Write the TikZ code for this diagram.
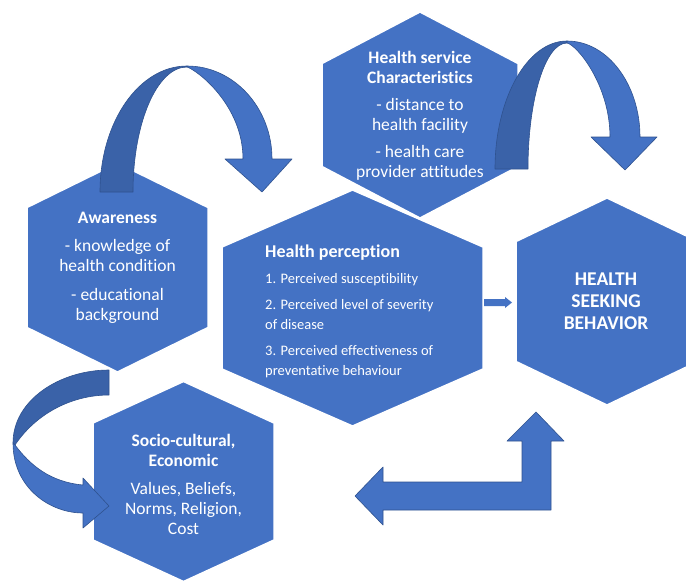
\documentclass[tikz,border=0pt]{standalone}
\usepackage{fontspec}
\setmainfont{Carlito}[Ligatures=NoCommon]
\usetikzlibrary{positioning}
\definecolor{hexblue}{HTML}{4472C4}
\definecolor{ribbondark}{HTML}{3A62A8}
\definecolor{edgeblue}{HTML}{2F528F}
% hexagon: centre x, centre y, half width, half side, half height
\newcommand{\hexa}[5]{({#1-#3},{#2-#4}) -- (#1,{#2-#5}) -- ({#1+#3},{#2-#4}) -- ({#1+#3},{#2+#4}) -- (#1,{#2+#5}) -- ({#1-#3},{#2+#4}) -- cycle}
\tikzset{
  hexbox/.style={fill=hexblue,draw=white,line width=1.5pt},
  ribbon/.style={fill=hexblue,draw=edgeblue,line width=0.6pt,line join=round},
  ribbonback/.style={fill=ribbondark,draw=edgeblue,line width=0.6pt,line join=round},
  hextext/.style={text=white,align=center,inner sep=0pt,font=\fontsize{17.5}{20}\selectfont}
}
\begin{document}
\begin{tikzpicture}[x=1pt,y=-1pt]
\clip (0,0) rectangle (686,581);
\fill[white] (0,0) rectangle (686,581);
% hexagons
\draw[hexbox] \hexa{420}{115}{98}{51.5}{103};
\draw[hexbox] \hexa{117.5}{267.5}{90.5}{60}{104.5};
\draw[hexbox] \hexa{352.5}{308}{130.5}{61}{118};
\draw[hexbox] \hexa{607}{301.5}{91}{60}{103.5};
\draw[hexbox] \hexa{183.5}{481.5}{90.5}{58.5}{100};
% curved arrow: awareness -> perception
\draw[ribbonback] (100,192) .. controls (100,122) and (139,66) .. (187,66) -- (187,67) .. controls (157,67) and (133,123) .. (133,192) -- cycle;
\draw[ribbon] (187,66) .. controls (234,66) and (272,108) .. (272,159) -- (292,159) -- (262,192) -- (225,159) -- (243,159) .. controls (243,105) and (197,70) .. (187,67) -- cycle;
% curved arrow: service -> seeking behaviour
\draw[ribbonback] (495,169) .. controls (495,99) and (527,41) .. (567,41) -- (567,43) .. controls (545,43) and (528,100) .. (528,169) -- cycle;
\draw[ribbon] (567,41) .. controls (608,41) and (640,85) .. (640,137) -- (657,137) -- (625,170) -- (591,137) -- (610,137) .. controls (610,85) and (577,45) .. (567,43) -- cycle;
% curved arrow: awareness -> socio-cultural
\draw[ribbonback] (109,370) .. controls (60,370) and (13,400) .. (13,443) -- (15,445) .. controls (35,415) and (70,395) .. (109,395) -- cycle;
\draw[ribbon] (13,443) .. controls (13,488) and (50,513) .. (83,513) -- (83,528) -- (109,506) -- (83,478) -- (83,485) .. controls (50,482) and (30,465) .. (15,445) -- cycle;
% small arrow: perception -> seeking behaviour
\fill[hexblue] (484,299) -- (505,299) -- (505,297) -- (512,302.5) -- (505,308) -- (505,306) -- (484,306) -- cycle;
% bent arrow: socio-cultural <-> seeking behaviour
\draw[ribbon] (355,496) -- (383,467) -- (383,482) -- (522,482) -- (522,441) -- (507,441) -- (536,412) -- (564,441) -- (551,441) -- (551,510) -- (383,510) -- (383,525) -- cycle;
% texts
\node[hextext] (service) at (420,116) {\textbf{Health service}\\\textbf{Characteristics}\\[7pt]- distance to\\health facility\\[7pt]- health care\\provider attitudes};
\node[hextext] (aware) at (117.5,268) {\textbf{Awareness}\\[8pt]- knowledge of\\health condition\\[9pt]- educational\\background};
\node[hextext,anchor=west,align=left] (percept) at (265,311) {{\fontsize{18}{20}\selectfont\textbf{Health perception}}\\[6pt]
  {\fontsize{14.5}{16.5}\selectfont 1. Perceived susceptibility}\\[6pt]
  {\fontsize{14.5}{16.5}\selectfont 2. Perceived level of severity}\\
  {\fontsize{14.5}{16.5}\selectfont of disease}\\[6pt]
  {\fontsize{14.5}{16.5}\selectfont 3. Perceived effectiveness of}\\
  {\fontsize{14.5}{16.5}\selectfont preventative behaviour}};
\node[hextext,font=\fontsize{19.5}{22}\selectfont\bfseries] (seek) at (606,301.5) {HEALTH\\SEEKING\\BEHAVIOR};
\node[hextext] (socio) at (183.5,484) {\textbf{Socio-cultural,}\\\textbf{Economic}\\[8pt]Values, Beliefs,\\Norms, Religion,\\Cost};
\end{tikzpicture}
\end{document}
